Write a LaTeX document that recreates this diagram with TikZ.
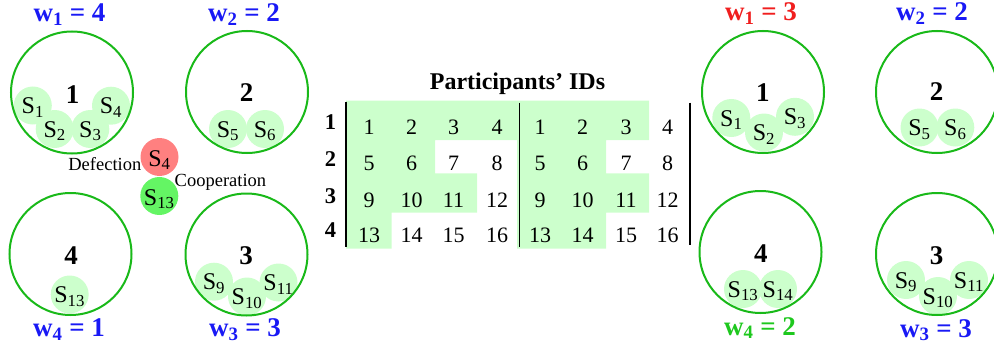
\documentclass[tikz,border=0pt]{standalone}
\usepackage{fontspec}
\setmainfont{Liberation Serif}
\definecolor{sgreen}{RGB}{204,255,204}
\definecolor{grpgreen}{RGB}{25,185,25}
\definecolor{defred}{RGB}{255,128,128}
\definecolor{coopgreen}{RGB}{100,245,100}
\definecolor{wblue}{RGB}{25,25,245}
\definecolor{wred}{RGB}{240,30,30}
\definecolor{wgreen}{RGB}{30,200,30}
\pgfdeclarelayer{background}
\pgfsetlayers{background,main}
\newcommand\fsz[1]{\fontsize{#1}{#1}\selectfont}
\newcommand\sdisc[3]{%
  \begin{pgfonlayer}{background}\fill[sgreen] (#2) circle[radius=19pt];\end{pgfonlayer}%
  \node[stxt] (#1) at (#2) {#3};}
\tikzset{
  grp/.style={circle, draw=grpgreen, line width=2pt, minimum size=122pt, inner sep=0pt},
  stxt/.style={circle, minimum size=38pt, inner sep=0pt, text height=16pt, text depth=0pt, font=\fsz{24}},
  gnum/.style={anchor=base, inner sep=0pt, font=\fsz{27}\bfseries},
  wlab/.style={anchor=base, inner sep=0pt, font=\fsz{27}\bfseries},
  cell/.style={anchor=base, inner sep=0pt, font=\fsz{22}},
  rowlab/.style={anchor=base, inner sep=0pt, font=\fsz{22.5}\bfseries},
  small/.style={inner sep=0pt, font=\fsz{18.5}},
  bar/.style={line width=1.5pt, black}
}
\begin{document}
\begin{tikzpicture}[x=1pt,y=-1pt]
\useasboundingbox (0,0) rectangle (994,353);
\clip (0,0) rectangle (994,353);

% ---------- left groups ----------
\node[grp] (lg1) at (72,92.5) {};
\node[grp] (lg2) at (247,92) {};
\node[grp] (lg4) at (70.5,254) {};
\node[grp] (lg3) at (246.5,254.5) {};

\node[gnum] (ln1) at (72.7,103) {1};
\node[gnum] (ln2) at (246.7,101.7) {2};
\node[gnum] (ln4) at (71,264) {4};
\node[gnum] (ln3) at (246,264) {3};

\sdisc{ls1}{32.8,105.5}{S\textsubscript{1}}
\sdisc{ls2}{54.7,129}{S\textsubscript{2}}
\sdisc{ls3}{90.3,129}{S\textsubscript{3}}
\sdisc{ls4}{111,105.7}{S\textsubscript{4}}
\sdisc{ls5}{228,129}{S\textsubscript{5}}
\sdisc{ls6}{265,129}{S\textsubscript{6}}
\sdisc{ls13}{69.7,294.5}{S\textsubscript{13}}
\sdisc{ls9}{214,281.7}{S\textsubscript{9}}
\sdisc{ls10}{247,296.5}{S\textsubscript{10}}
\sdisc{ls11}{278.5,282.5}{S\textsubscript{11}}

\node[wlab, text=wblue] (lw1) at (69.5,21.5) {w\textsubscript{1} = 4};
\node[wlab, text=wblue] (lw2) at (244,21.5) {w\textsubscript{2} = 2};
\node[wlab, text=wblue] (lw4) at (69,336.5) {w\textsubscript{4} = 1};
\node[wlab, text=wblue] (lw3) at (245,336.5) {w\textsubscript{3} = 3};

% defection / cooperation
\node[stxt, fill=defred, text height=18pt] (def) at (159.5,157) {S\textsubscript{4}};
\node[stxt, fill=coopgreen, text height=18pt] (coop) at (159.3,196) {S\textsubscript{13}};
\node[small, anchor=base east] (deflab) at (141.5,170.7) {Defection};
\node[small, anchor=base west] (cooplab) at (174.5,186.7) {Cooperation};

% ---------- table ----------
\node[anchor=base, inner sep=0pt, font=\fsz{24}\bfseries] (title) at (517.5,89) {Participants’ IDs};
\begin{pgfonlayer}{background}
\fill[sgreen] (346,100.7) -- (517,100.7) -- (517,140) -- (435,140) -- (435,173.3)
  -- (477,173.3) -- (477,212.7) -- (391.7,212.7) -- (391.7,248.5) -- (346,248.5) -- cycle;
\fill[sgreen] (517,100.7) -- (649,100.7) -- (649,140) -- (606,140) -- (606,173.3)
  -- (649,173.3) -- (649,212.7) -- (606,212.7) -- (606,248.5) -- (517,248.5) -- cycle;
\end{pgfonlayer}
\draw[bar] (346,101.7) -- (346,246.7);
\draw[bar] (519.5,102.7) -- (519.5,246.7);
\draw[bar] (690,102.7) -- (690,245);

\foreach \r/\yb/\yl in {1/134/129, 2/170/166, 3/207/203, 4/242/237} {
  \node[rowlab] (row\r) at (330.5,\yl) {\r};
  \foreach \c/\xl/\xr in {1/369/540, 2/411.5/582.5, 3/453.5/626, 4/497/667.5} {
    \pgfmathtruncatemacro\cellnum{4*(\r-1)+\c}
    \node[cell] (L\r\c) at (\xl,\yb) {\cellnum};
    \node[cell] (R\r\c) at (\xr,\yb) {\cellnum};
  }
}

% ---------- right groups ----------
\node[grp] (rg1) at (763,92) {};
\node[grp] (rg2) at (937,92) {};
\node[grp] (rg4) at (760.5,252) {};
\node[grp] (rg3) at (937,254) {};

\node[gnum] (rn1) at (762.8,101.7) {1};
\node[gnum] (rn2) at (936.7,100.5) {2};
\node[gnum] (rn4) at (760.8,262.7) {4};
\node[gnum] (rn3) at (936.7,264.3) {3};

\sdisc{rs1}{731.3,118}{S\textsubscript{1}}
\sdisc{rs2}{764,132.5}{S\textsubscript{2}}
\sdisc{rs3}{795,116.8}{S\textsubscript{3}}
\sdisc{rs5}{919.5,127.5}{S\textsubscript{5}}
\sdisc{rs6}{955.3,127.5}{S\textsubscript{6}}
\sdisc{rs13}{743,289}{S\textsubscript{13}}
\sdisc{rs14}{778,289}{S\textsubscript{14}}
\sdisc{rs9}{906,280}{S\textsubscript{9}}
\sdisc{rs10}{938,296}{S\textsubscript{10}}
\sdisc{rs11}{969,280}{S\textsubscript{11}}

\node[wlab, text=wred] (rw1) at (761,20.5) {w\textsubscript{1} = 3};
\node[wlab, text=wblue] (rw2) at (932,20.5) {w\textsubscript{2} = 2};
\node[wlab, text=wgreen] (rw4) at (760,335) {w\textsubscript{4} = 2};
\node[wlab, text=wblue] (rw3) at (936,337) {w\textsubscript{3} = 3};
\end{tikzpicture}
\end{document}
